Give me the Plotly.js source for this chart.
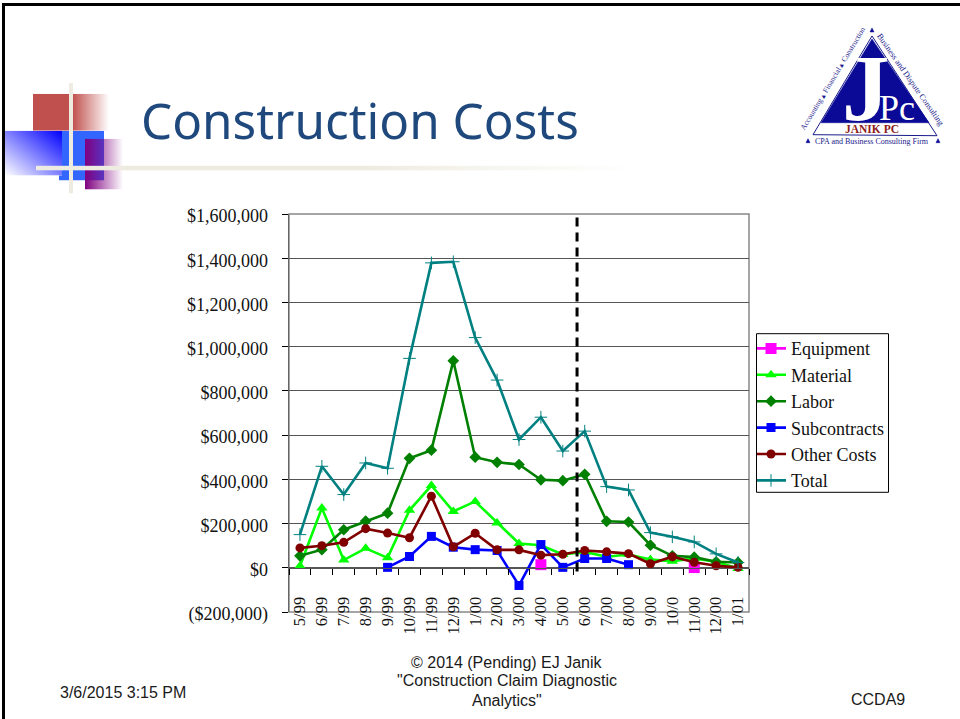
<!DOCTYPE html>
<html>
<head>
<meta charset="utf-8">
<script src="https://cdn.plot.ly/plotly-3.0.1.min.js"></script>
<style>html,body{margin:0;padding:0;background:#fff;overflow:hidden}#chart{width:960px;height:719px}</style>
</head>
<body>
<div id="chart"></div>
<script>
const months = ['5/99','6/99','7/99','8/99','9/99','10/99','11/99','12/99','1/00','2/00','3/00','4/00','5/00','6/00','7/00','8/00','9/00','10/0','11/00','12/00','1/01'];
const equipment = [null,null,null,null,null,null,null,null,null,null,null,14000,null,null,null,null,null,null,1000,null,null];
const material = [8000,270000,35000,88000,45000,260000,372000,255000,300000,203000,110000,102000,60000,72000,50000,60000,37000,30000,42000,27000,-3000];
const labor = [54000,82000,172000,211000,247000,495000,532000,936000,500000,477000,467000,398000,394000,423000,210000,207000,102000,54000,48000,27000,24000];
const subcontracts = [null,null,null,null,2000,51000,142000,93000,82000,78000,-80000,105000,2000,42000,42000,14000,null,null,null,null,null];
const otherCosts = [90000,100000,115000,177000,157000,136000,324000,95000,156000,81000,81000,57000,61000,78000,72000,64000,18000,50000,25000,9000,2000];
const total = [150000,459000,331000,474000,450000,947000,1379000,1384000,1041000,849000,580000,681000,528000,618000,367000,352000,159000,140000,117000,63000,24000];
const yTickVals = [-200000,0,200000,400000,600000,800000,1000000,1200000,1400000,1600000];
const yTickText = ['($200,000)','$0','$200,000','$400,000','$600,000','$800,000','$1,000,000','$1,200,000','$1,400,000','$1,600,000'];

const PL=289, PR=749, PT=213.5, PB=612.5;
const px = x => (x-PL)/(PR-PL);
const py = y => (PB-y)/(PB-PT);

function mk(name, y, color, symbol, size){
  return {type:'scatter',mode:'lines+markers',name,x:months,y,legendgroup:name,
    line:{color,width:2.6},marker:{color,symbol,size,line:{color,width:symbol==='cross-thin'?1:0}},
    connectgaps:false,hoverinfo:'x+y+name'};
}
const traces = [
  mk('Equipment',equipment,'#ff00ff','square',11),
  mk('Material',material,'#00ff00','triangle-up',10),
  mk('Labor',labor,'#008000','diamond',9),
  mk('Subcontracts',subcontracts,'#0000ff','square',9),
  mk('Other Costs',otherCosts,'#800000','circle',9),
  mk('Total',total,'#008080','cross-thin',9)
];

function svgImg(w,h,defs,body){
  const s=`<svg xmlns="http://www.w3.org/2000/svg" width="${w}" height="${h}" viewBox="0 0 ${w} ${h}"><defs>${defs}</defs>${body}</svg>`;
  return 'data:image/svg+xml;base64,'+btoa(s);
}
function box(src,x,y,w,h){
  return {source:src,xref:'paper',yref:'paper',x:px(x),y:py(y),sizex:w/(PR-PL),sizey:h/(PB-PT),
    xanchor:'left',yanchor:'top',sizing:'stretch',layer:'below'};
}
function grad(id,x1,y1,x2,y2,stops){
  return `<linearGradient id="${id}" x1="${x1}" y1="${y1}" x2="${x2}" y2="${y2}">`+
    stops.map(s=>`<stop offset="${s[0]}" stop-color="${s[1]}" stop-opacity="${s[2]}"/>`).join('')+`</linearGradient>`;
}
const images = [
  box(svgImg(76,37,grad('g',0,0,1,0,[[0,'#c0504d',1],[0.52,'#c0504d',1],[1,'#c0504d',0]]),'<rect width="76" height="37" fill="url(#g)"/>'),33,93,76,37),
  box(svgImg(57,45,grad('g',1,0,0,1,[[0,'#0000ff',1],[1,'#0000ff',0]]),'<rect width="57" height="45" fill="url(#g)"/>'),5,130,57,45),
  box(svgImg(45,50,'','<path d="M3 0H45V50H0V45H3Z" fill="#3366ff"/>'),59,130,45,50),
  box(svgImg(38,51,grad('g',0,0,1,0,[[0,'#800080',1],[1,'#800080',0]]),'<rect width="38" height="51" fill="url(#g)"/>'),85,138,38,51),
  box(svgImg(4,111,'','<rect width="4" height="111" fill="#eeece1"/>'),69,82,4,111),
  box(svgImg(600,5,grad('g',0,0,1,0,[[0,'#eeece1',1],[0.55,'#eeece1',1],[1,'#eeece1',0]]),'<rect width="600" height="5" fill="url(#g)"/>'),36,165,600,5)
];

function tri(xs,ys,fill,lineColor,w){
  const d='M'+xs.map((x,i)=>px(x)+' '+py(ys[i])).join('L')+'Z';
  return {type:'path',xref:'paper',yref:'paper',path:d,fillcolor:fill,line:{color:lineColor,width:w},layer:'below'};
}
const shapes = [
  {type:'rect',xref:'paper',yref:'paper',x0:px(3.5),x1:px(962),y0:py(3.5),y1:py(725),line:{color:'#000',width:3},fillcolor:'rgba(0,0,0,0)',layer:'below'},
  {type:'rect',xref:'paper',yref:'paper',x0:0,x1:1,y0:0,y1:1,line:{color:'#888',width:1.5},fillcolor:'rgba(0,0,0,0)',layer:'below'},
  {type:'rect',xref:'paper',yref:'paper',x0:px(756.5),x1:px(888.5),y0:py(333.5),y1:py(492.5),line:{color:'#000',width:1},fillcolor:'#fff',layer:'above'},
  {type:'line',xref:'x',yref:'y',x0:12.65,x1:12.65,y0:-17000,y1:1585000,line:{color:'#000',width:3,dash:'9px,6px'}},
  tri([872,813,937],[35,134,135],'#ffffff','#1a1a8c',1),
  tri([872,821,929],[38,122,122],'#0a0a96','#0a0a96',0.5),
  tri([870,874,872],[31,31,27],'#0a0a96','#0a0a96',0.5),
  tri([806,810,808],[142,142,138],'#0a0a96','#0a0a96',0.5),
  tri([936,940,938],[142,142,138],'#0a0a96','#0a0a96',0.5)
];

function ann(text,x,y,size,color,family,opts){
  return Object.assign({text,xref:'paper',yref:'paper',x:px(x),y:py(y),xanchor:'center',yanchor:'middle',showarrow:false,
    font:{size,color,family}},opts||{});
}
const SANS='Liberation Sans', SERIF='Liberation Serif';
const annotations = [
  ann('Construction Costs',139,119,49.4,'#1f497d','Noto Sans',{xanchor:'left'}),
  ann('© 2014 (Pending) EJ Janik',507,663,16,'#1a1a1a',SANS),
  ann('"Construction Claim Diagnostic',507,681,16,'#1a1a1a',SANS),
  ann('Analytics"',507,701,16,'#1a1a1a',SANS),
  ann('3/6/2015 3:15 PM',58,693,16,'#1a1a1a',SANS,{xanchor:'left'}),
  ann('CCDA9',849,700,16,'#1a1a1a',SANS,{xanchor:'left'}),
  ann('<b>J</b>',866,88,95,'#ffffff',SERIF),
  ann('Pc',897,107,36,'#ffffff',SERIF),
  ann('<b>JANIK PC</b>',872,128,11.5,'#8c1c1c',SERIF),
  ann('CPA and Business Consulting Firm',872,141,8,'#1a1a8c',SERIF),
  ann('Accounting ▴ Financial ▴ Construction',833,78,7.6,'#1a1a8c',SERIF,{textangle:-59}),
  ann('Business and Dispute Consulting',910,79,8.3,'#1a1a8c',SERIF,{textangle:55})
];

const layout = {
  width:960,height:719,
  margin:{l:PL,r:960-PR,t:PT,b:719-PB,pad:0},
  paper_bgcolor:'#fff',plot_bgcolor:'rgba(0,0,0,0)',
  font:{family:SERIF,size:18,color:'#111'},
  showlegend:true,
  legend:{x:px(757),y:py(330),xanchor:'left',yanchor:'top',bgcolor:'rgba(0,0,0,0)',borderwidth:0,
    font:{family:SERIF,size:18,color:'#111'},itemwidth:30,tracegroupgap:0,traceorder:'grouped',indentation:-6},
  xaxis:{type:'category',categoryorder:'array',categoryarray:months,range:[-0.5,20.5],anchor:'free',position:py(593),
    showline:false,showgrid:false,zeroline:false,ticks:'',tickangle:-90,tickfont:{family:SERIF,size:16.5,color:'#111'},tickmode:'array',tickvals:months,ticktext:months},
  xaxis2:{type:'category',categoryorder:'array',categoryarray:months,range:[-0.5,20.5],overlaying:'x',anchor:'free',position:py(568),
    showline:true,linecolor:'#555',linewidth:1,showgrid:false,zeroline:false,ticks:'outside',ticklen:6,tickcolor:'#000',tickson:'boundaries',showticklabels:false},
  yaxis:{range:[-200000,1600000],tickmode:'array',tickvals:yTickVals,ticktext:yTickText,
    showgrid:true,gridcolor:'#555',gridwidth:1,zeroline:false,showline:true,linecolor:'#666',linewidth:1.5,
    ticks:'outside',ticklen:6,tickcolor:'#000',ticklabelstandoff:10,ticklabelshift:2,tickfont:{family:SERIF,size:18,color:'#111'}},
  images,shapes,annotations
};
traces.push({type:'scatter',mode:'none',x:months,y:months.map(()=>null),xaxis:'x2',showlegend:false,hoverinfo:'skip'});
Plotly.newPlot('chart',traces,layout,{displayModeBar:false,staticPlot:true});
</script>
</body>
</html>
